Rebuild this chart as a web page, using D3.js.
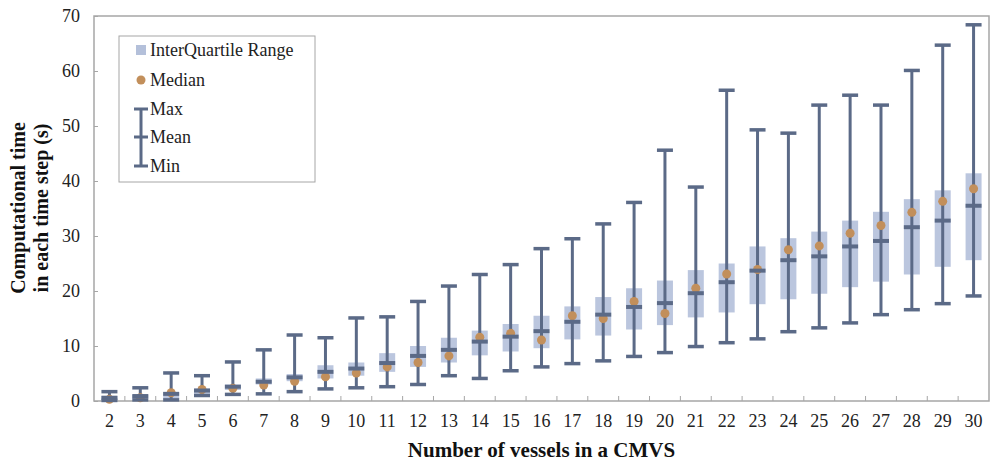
<!DOCTYPE html>
<meta charset="utf-8">
<style>
body { margin: 0; background: #fff; }
svg text { font-family: "Liberation Serif", "DejaVu Serif", serif !important; }
</style>
<script src="https://d3js.org/d3.v7.min.js"></script>
<div id="chart"></div>
<script>
// data
var vessels = [2,3,4,5,6,7,8,9,10,11,12,13,14,15,16,17,18,19,20,21,22,23,24,25,26,27,28,29,30];
var maxVals = [1.7,2.4,5.1,4.6,7.1,9.3,12.0,11.5,15.1,15.3,18.1,20.9,23.0,24.8,27.7,29.5,32.2,36.1,45.6,38.9,56.5,49.3,48.7,53.8,55.6,53.8,60.1,64.7,68.4];
var q3Vals = [0.9,1.1,1.6,2.3,3.0,4.1,4.9,6.5,7.0,8.7,10.0,11.5,12.8,14.0,15.5,17.2,18.9,20.5,21.9,23.8,25.0,28.1,29.6,30.8,32.8,34.4,36.7,38.3,41.4];
var meanVals = [0.6,0.9,1.3,1.9,2.6,3.5,4.3,5.3,5.9,6.9,8.2,9.3,10.8,11.7,12.7,14.4,15.7,17.1,17.8,19.6,21.6,23.7,25.6,26.3,28.1,29.1,31.6,32.8,35.5];
var medianVals = [0.3,0.6,1.5,2.1,2.3,2.9,3.6,4.4,5.1,6.2,7.0,8.2,11.6,12.3,11.1,15.5,15.0,18.1,15.9,20.5,23.1,23.9,27.5,28.2,30.5,31.9,34.3,36.3,38.6];
var q1Vals = [0.2,0.4,0.3,1.3,2.0,3.0,3.6,4.1,4.6,5.3,6.2,7.0,8.3,9.0,9.6,11.2,11.9,13.0,13.8,15.2,16.1,17.6,18.5,19.5,20.7,21.7,23.0,24.4,25.6];
var minVals = [0.1,0.2,0.2,1.0,1.2,1.3,1.7,2.2,2.4,2.6,3.0,4.6,4.1,5.5,6.2,6.8,7.3,8.1,8.8,9.9,10.6,11.3,12.6,13.3,14.2,15.7,16.6,17.7,19.1];
var yTicks = [0,10,20,30,40,50,60,70];

var W = 990, H = 463;
var margin = {top: 16, right: 1, bottom: 62, left: 94},
    width = W - margin.left - margin.right,
    height = H - margin.top - margin.bottom;

var boxColor = "#b4c0da", lineColor = "#5b6a87", medColor = "#c28f5b", axisColor = "#a6a6a6";
var serif = "Liberation Serif";

var svg = d3.select("#chart").append("svg")
    .attr("width", W).attr("height", H)
    .attr("font-family", serif);
var g = svg.append("g")
    .attr("transform", "translate(" + margin.left + "," + margin.top + ")");

var x = d3.scaleBand().domain(vessels).range([0, width]);
var y = d3.scaleLinear().domain([0, 70]).range([height, 0]);

var data = vessels.map(function(v, i) {
    return {v: v, max: maxVals[i], q3: q3Vals[i], mean: meanVals[i],
            med: medianVals[i], q1: q1Vals[i], min: minVals[i]};
});

// frame
g.append("rect")
    .attr("width", width).attr("height", height)
    .attr("fill", "none").attr("stroke", axisColor).attr("stroke-width", 1.5);

// y axis
var yAxis = d3.axisLeft(y).tickValues(yTicks).tickSize(-4).tickPadding(14);
g.append("g").call(yAxis)
    .attr("font-family", serif)
    .call(function(s) { s.select(".domain").remove(); })
    .call(function(s) {
        s.selectAll("line").attr("stroke", axisColor);
        s.selectAll("text").attr("font-size", 18).attr("fill", "#222");
    });

// x axis: ticks at band boundaries pointing up
g.append("g").selectAll("line.xt")
    .data(vessels.slice(1))
    .enter().append("line")
    .attr("x1", function(d) { return x(d); })
    .attr("x2", function(d) { return x(d); })
    .attr("y1", height).attr("y2", height - 5)
    .attr("stroke", axisColor);

var xAxis = d3.axisBottom(x).tickSize(0).tickPadding(13);
g.append("g").attr("transform", "translate(0," + height + ")").call(xAxis)
    .attr("font-family", serif)
    .call(function(s) { s.select(".domain").remove(); })
    .call(function(s) {
        s.selectAll("text").attr("font-size", 18).attr("fill", "#222");
    });

var bw = 16;
var items = g.append("g").selectAll("g.item")
    .data(data).enter().append("g")
    .attr("transform", function(d) { return "translate(" + (x(d.v) + x.bandwidth() / 2) + ",0)"; });

// IQR box
items.append("rect")
    .attr("x", -bw / 2).attr("width", bw)
    .attr("y", function(d) { return y(d.q3); })
    .attr("height", function(d) { return y(d.q1) - y(d.q3); })
    .attr("fill", boxColor).attr("opacity", 0.9);

// whisker
items.append("line")
    .attr("y1", function(d) { return y(d.max); })
    .attr("y2", function(d) { return y(d.min); })
    .attr("stroke", lineColor).attr("stroke-width", 3);

// median
items.append("circle")
    .attr("cy", function(d) { return y(d.med); })
    .attr("r", 4.5).attr("fill", medColor);

// caps and mean
["max", "mean", "min"].forEach(function(k) {
    items.append("line")
        .attr("x1", -bw / 2).attr("x2", bw / 2)
        .attr("y1", function(d) { return y(d[k]); })
        .attr("y2", function(d) { return y(d[k]); })
        .attr("stroke", lineColor).attr("stroke-width", k == "mean" ? 4 : 3.5);
});

// legend
var lg = svg.append("g").attr("transform", "translate(119,36)");
lg.append("rect").attr("width", 196).attr("height", 146)
    .attr("fill", "#fff").attr("stroke", axisColor).attr("stroke-width", 1);
lg.append("rect").attr("x", 17).attr("y", 9).attr("width", 10).attr("height", 10).attr("fill", boxColor);
lg.append("circle").attr("cx", 22).attr("cy", 44).attr("r", 4.5).attr("fill", medColor);
lg.append("line").attr("x1", 22).attr("x2", 22).attr("y1", 73).attr("y2", 130)
    .attr("stroke", lineColor).attr("stroke-width", 3);
[73, 101, 130].forEach(function(yy) {
    lg.append("line").attr("x1", 15).attr("x2", 29).attr("y1", yy).attr("y2", yy)
        .attr("stroke", lineColor).attr("stroke-width", 3);
});
var labels = [["InterQuartile Range", 14], ["Median", 44], ["Max", 73], ["Mean", 101], ["Min", 130]];
labels.forEach(function(l) {
    lg.append("text").attr("x", 31).attr("y", l[1]).attr("dy", "0.35em")
        .attr("font-size", 18).attr("fill", "#222").text(l[0]);
});

// axis titles
svg.append("text")
    .attr("x", margin.left + width / 2).attr("y", 457)
    .attr("text-anchor", "middle").attr("font-size", 21).attr("font-weight", "bold")
    .attr("fill", "#111").text("Number of vessels in a CMVS");

var yt = svg.append("text")
    .attr("transform", "translate(0,208) rotate(-90)")
    .attr("text-anchor", "middle").attr("font-size", 20).attr("font-weight", "bold")
    .attr("fill", "#111");
yt.append("tspan").attr("x", 0).attr("y", 25).text("Computational time");
yt.append("tspan").attr("x", 0).attr("y", 48).text("in each time step (s)");
</script>
